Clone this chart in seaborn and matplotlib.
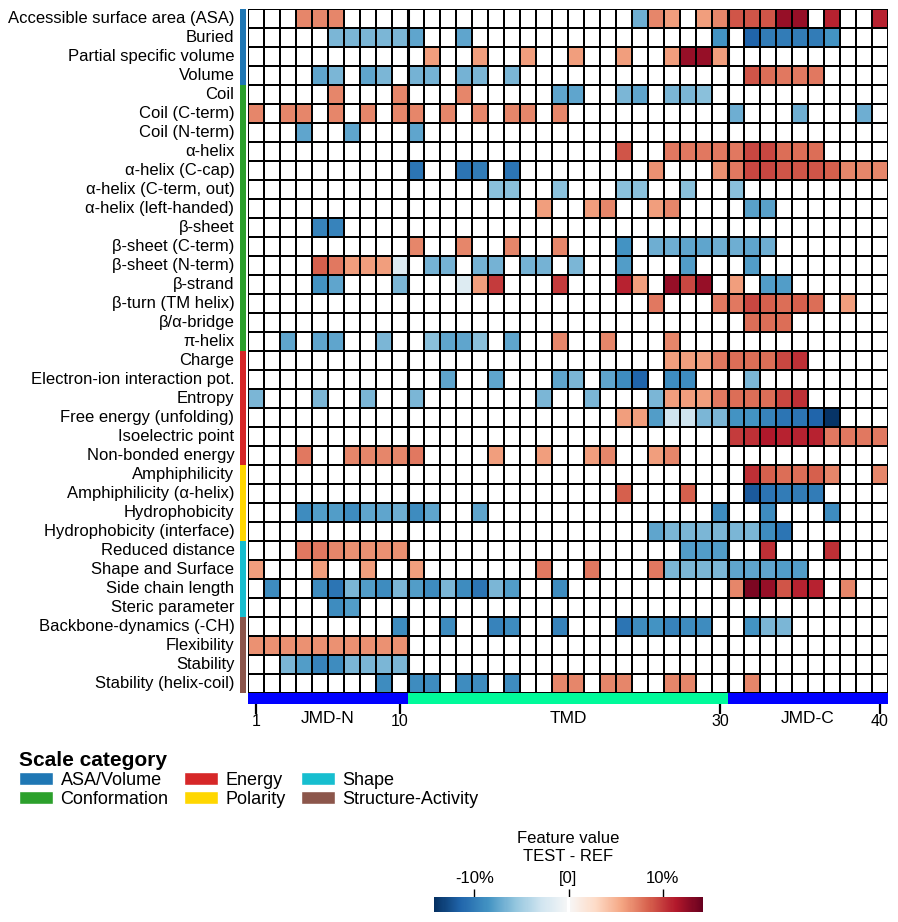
import numpy as np
import pandas as pd
import seaborn as sns
import matplotlib.pyplot as plt
from matplotlib.colors import ListedColormap
from matplotlib.patches import Patch

# --- data ---
categories = ["ASA/Volume", "Conformation", "Energy", "Polarity", "Shape", "Structure-Activity"]
cat_colors = ["#1f77b4", "#2ca02c", "#d62728", "#ffd700", "#17becf", "#8c564b"]

names_asa = ["Accessible surface area (ASA)", "Buried", "Partial specific volume", "Volume"]
vals_asa = [
    [0, 0, 0, 7, 7, 7, 0, 0, 0, 0, 0, 0, 0, 0, 0, 0, 0, 0, 0, 0, 0, 0, 0, 0, -7, 7, 6, 0, 6, 7, 9, 9, 9, 12.5, 12.5, 0, 11, 0, 0, 11],
    [0, 0, 0, 0, 0, -6.5, -6.5, -6.5, -6.5, -6.5, -7.5, 0, 0, -7.5, 0, 0, 0, 0, 0, 0, 0, 0, 0, 0, 0, 0, 0, 0, 0, -8.6, 0, -11.5, -10, -10, -10, -10, -8.6, 0, 0, 0],
    [0, 0, 0, 0, 0, 0, 0, 0, 0, 0, 0, 6, 0, 0, 6, 0, 0, 6, 0, 0, 6, 0, 0, 6, 0, 0, 6, 12.5, 12.5, 6, 0, 0, 0, 0, 0, 0, 0, 0, 0, 0],
    [0, 0, 0, 0, -7.5, -6.5, 0, -7.5, -6.5, 0, -6.8, -6.8, 0, -6.8, -6.5, 0, -6.5, 0, 0, 0, 0, 0, 0, 0, 0, 0, 0, 0, 0, 0, 0, 9, 8, 7.5, 7.5, 7.5, 0, 0, 0, 0],
]

names_conf = ["Coil", "Coil (C-term)", "Coil (N-term)", "α-helix", "α-helix (C-cap)",
              "α-helix (C-term, out)", "α-helix (left-handed)", "β-sheet", "β-sheet (C-term)",
              "β-sheet (N-term)", "β-strand", "β-turn (TM helix)", "β/α-bridge", "π-helix"]
vals_conf = [
    [0, 0, 0, 0, 0, 7, 0, 0, 0, 7, 0, 0, 0, 7, 0, 0, 0, 0, 0, -7.5, -7.5, 0, 0, -6.5, -7.5, 0, -6.5, -6.5, -6, 0, 0, 0, 0, 0, 0, 0, 0, 0, 0, 0],
    [7, 0, 7, 7, 0, 7, 0, 7, 0, 7, 7, 0, 7, 0, 7, 0, 7, 7, 0, 7, 0, 0, 0, 0, 0, 0, 0, 0, 0, 0, -7, 0, 0, 0, -7, 0, 0, 0, -7, 0],
    [0, 0, 0, -7.5, 0, 0, -7.5, 0, 0, 0, -7.5, 0, 0, 0, 0, 0, 0, 0, 0, 0, 0, 0, 0, 0, 0, 0, 0, 0, 0, 0, 0, 0, 0, 0, 0, 0, 0, 0, 0, 0],
    [0, 0, 0, 0, 0, 0, 0, 0, 0, 0, 0, 0, 0, 0, 0, 0, 0, 0, 0, 0, 0, 0, 0, 9, 0, 0, 7.5, 7.5, 7.5, 7.5, 7.5, 9.5, 9.5, 8, 8, 8, 0, 0, 0, 0],
    [0, 0, 0, 0, 0, 0, 0, 0, 0, 0, -10.5, 0, 0, -10.5, -10, 0, -10.5, 0, 0, 0, 0, 0, 0, 0, 0, 6.5, 0, 0, 0, 6.5, 7.5, 9.5, 9.5, 9, 9, 9, 8.5, 7, 7, 7],
    [0, 0, 0, 0, 0, 0, 0, 0, 0, 0, 0, 0, 0, 0, 0, -6, -6, 0, 0, -6, 0, 0, 0, -6, -6, 0, 0, -6, 0, 0, -6, 0, 0, 0, 0, 0, 0, 0, 0, 0],
    [0, 0, 0, 0, 0, 0, 0, 0, 0, 0, 0, 0, 0, 0, 0, 0, 0, 0, 6, 0, 0, 6, 7, 0, 0, 6, 7, 0, 0, 0, 0, -7.8, -7.8, 0, 0, 0, 0, 0, 0, 0],
    [0, 0, 0, 0, -9.5, -9.5, 0, 0, 0, 0, 0, 0, 0, 0, 0, 0, 0, 0, 0, 0, 0, 0, 0, 0, 0, 0, 0, 0, 0, 0, 0, 0, 0, 0, 0, 0, 0, 0, 0, 0],
    [0, 0, 0, 0, 0, 0, 0, 0, 0, 0, 7, 0, 0, 7, 0, 0, 7, 0, 0, 7, 0, 0, 0, -8.5, 0, -7, -7, -7.5, -7.5, -7, -7, -7.5, -7, 0, 0, 0, 0, 0, 0, 0],
    [0, 0, 0, 0, 8.5, 7.5, 6, 6, 6, -2, 0, -6.8, -6.8, 0, -6.8, -6.8, 0, -6.8, -6.8, 0, -6.5, 0, 0, -8, 0, 0, 0, -8, 0, 0, 0, -8, 0, 0, 0, 0, 0, 0, 0, 0],
    [0, 0, 0, 0, -8.5, -7.5, 0, 0, 0, -6.5, 0, 0, 0, -2, 6, 10, 0, 0, 0, 10, 0, 0, 0, 11, 6, 0, 12.5, 9.5, 12.5, 0, 6, 0, -8, -8, 0, 0, 0, 0, 0, 0],
    [0, 0, 0, 0, 0, 0, 0, 0, 0, 0, 0, 0, 0, 0, 0, 0, 0, 0, 0, 0, 0, 0, 0, 0, 0, 7.5, 0, 0, 0, 7.5, 7.5, 9.5, 8.5, 8, 8.5, 8, 0, 6, 0, 0],
    [0, 0, 0, 0, 0, 0, 0, 0, 0, 0, 0, 0, 0, 0, 0, 0, 0, 0, 0, 0, 0, 0, 0, 0, 0, 0, 0, 0, 0, 0, 0, 8, 8, 8, 0, 0, 0, 0, 0, 0],
    [0, 0, -7.5, 0, -7.5, -7.5, 0, 0, -6.5, 0, 0, -6, -7.5, -7.5, -6, 0, -7.5, 0, 0, 7, 0, 0, 7, 0, 0, 0, 7, 0, 0, 0, 0, 0, 0, 0, 0, 0, 0, 0, 0, 0],
]

names_energy = ["Charge", "Electron-ion interaction pot.", "Entropy", "Free energy (unfolding)",
                "Isoelectric point", "Non-bonded energy"]
vals_energy = [
    [0, 0, 0, 0, 0, 0, 0, 0, 0, 0, 0, 0, 0, 0, 0, 0, 0, 0, 0, 0, 0, 0, 0, 0, 0, 0, 6, 6, 6, 7.5, 8, 8, 8, 9.5, 10.5, 0, 0, 0, 0, 0],
    [0, 0, 0, 0, 0, 0, 0, 0, 0, 0, 0, 0, -7.5, 0, 0, -7.5, 0, 0, 0, -7.5, -6.5, 0, -7.5, -9, -11.5, 0, -9, -9, 0, 0, 0, -6.5, 0, 0, 0, 0, 0, 0, 0, 0],
    [-6.5, 0, 0, 0, -6.5, 0, 0, -6.5, 0, 0, -6.5, 0, 0, 0, 0, 0, 0, 0, -6.5, 0, 0, -6.5, 0, 0, 0, -6.5, 6, 6, 6, 7.5, 8, 8, 8, 9.5, 10.5, 0, 0, 0, 0, 0],
    [0, 0, 0, 0, 0, 0, 0, 0, 0, 0, 0, 0, 0, 0, 0, 0, 0, 0, 0, 0, 0, 0, 0, 6, 6, -8, -3, -3, -6.5, -6.5, -8.5, -8.5, -9.5, -10.5, -10.5, -11.5, -14, 0, 0, 0],
    [0, 0, 0, 0, 0, 0, 0, 0, 0, 0, 0, 0, 0, 0, 0, 0, 0, 0, 0, 0, 0, 0, 0, 0, 0, 0, 0, 0, 0, 0, 10, 10.5, 11.5, 11, 11, 11, 7.5, 7.5, 7.5, 7.5],
    [0, 0, 0, 7.5, 0, 0, 7, 7, 7, 7, 7.5, 0, 0, 0, 0, 6, 0, 0, 6, 0, 0, 6, 7, 0, 0, 6, 7, 0, 0, 0, 0, 0, 0, 0, 0, 0, 0, 0, 0, 0],
]

names_polarity = ["Amphiphilicity", "Amphiphilicity (α-helix)", "Hydrophobicity", "Hydrophobicity (interface)"]
vals_polarity = [
    [0, 0, 0, 0, 0, 0, 0, 0, 0, 0, 0, 0, 0, 0, 0, 0, 0, 0, 0, 0, 0, 0, 0, 0, 0, 0, 0, 0, 0, 0, 0, 10.5, 8.5, 8, 8, 8.5, 7, 0, 0, 7],
    [0, 0, 0, 0, 0, 0, 0, 0, 0, 0, 0, 0, 0, 0, 0, 0, 0, 0, 0, 0, 0, 0, 0, 8.5, 0, 0, 0, 8.5, 0, 0, 0, -12, -10.5, -10, -10, -10, 0, 0, 0, 0],
    [0, 0, 0, -9, -8, -8, -9, -7.5, -7.5, -7, -9, -7.5, 0, 0, -7.5, 0, 0, 0, 0, 0, 0, 0, 0, 0, 0, 0, 0, 0, 0, -9, 0, 0, -9, 0, 0, 0, -9, 0, 0, 0],
    [0, 0, 0, 0, 0, 0, 0, 0, 0, 0, 0, 0, 0, 0, 0, 0, 0, 0, 0, 0, 0, 0, 0, 0, 0, -7.5, -6.5, -6.5, -6.5, -6.5, -6.5, -6.5, -9, -10.5, 0, 0, 0, 0, 0, 0],
]

names_shape = ["Reduced distance", "Shape and Surface", "Side chain length", "Steric parameter"]
vals_shape = [
    [0, 0, 0, 7.5, 7.5, 7, 6.5, 6.5, 6.5, 6.5, 0, 0, 0, 0, 0, 0, 0, 0, 0, 0, 0, 0, 0, 0, 0, 0, 0, -8, -8, -8, 0, 0, 10.5, 0, 0, 0, 10.5, 0, 0, 0],
    [6, 0, 0, 0, 6, 0, 0, 6, 0, 0, 6, 0, 0, 0, 0, 0, 0, 0, 7.5, 0, 0, 7.5, 0, 0, 0, 7.5, -6.5, -6.5, -6.5, -6.5, -7.5, -7.5, -7.5, -8, -8, 0, 0, 0, 0, 0],
    [0, -9, 0, 0, -9, -10.5, -6.5, -8, -9, -6.5, -8, -9, -6.5, -9, -10.5, -6.5, -8, 0, 0, -9, 0, 0, 0, 0, 0, 0, 0, 0, 0, 0, 7, 13.5, 12.5, 9, 11, 11, 0, 7, 0, 0],
    [0, 0, 0, 0, 0, -9, -8, 0, 0, 0, 0, 0, 0, 0, 0, 0, 0, 0, 0, 0, 0, 0, 0, 0, 0, 0, 0, 0, 0, 0, 0, 0, 0, 0, 0, 0, 0, 0, 0, 0],
]

names_struct = ["Backbone-dynamics (-CH)", "Flexibility", "Stability", "Stability (helix-coil)"]
vals_struct = [
    [0, 0, 0, 0, 0, 0, 0, 0, 0, -9, 0, 0, -9, 0, 0, -9.5, -9, 0, 0, -9.5, 0, 0, 0, -10.5, -9, -8.5, -9.5, -9, -9, 0, 0, -8.5, -6.5, -6.5, 0, 0, 0, 0, 0, 0],
    [6.5, 6.5, 6.5, 6.5, 6.5, 6.5, 6.5, 6.5, 6.5, 6.5, 0, 0, 0, 0, 0, 0, 0, 0, 0, 0, 0, 0, 0, 0, 0, 0, 0, 0, 0, 0, 0, 0, 0, 0, 0, 0, 0, 0, 0, 0],
    [0, 0, -6.5, -8, -9.5, -9, -6.5, -6.5, -6.5, -6.5, 0, 0, 0, 0, 0, 0, 0, 0, 0, 0, 0, 0, 0, 0, 0, 0, 0, 0, 0, 0, 0, 0, 0, 0, 0, 0, 0, 0, 0, 0],
    [0, 0, 0, 0, 0, 0, 0, 0, -9, 0, -9, -9, 0, -9, -9, 0, -9, 0, 0, 7, 7, 0, 7, 7, 0, 0, 7, 7, 0, 0, 0, 7, 0, 0, 0, 0, 0, 0, 0, 0],
]

positions = list(range(1, 41))
regions = ["JMD-N"] * 10 + ["TMD"] * 20 + ["JMD-C"] * 10
region_colors = {"JMD-N": "#0000ff", "TMD": "#00fa9a", "JMD-C": "#0000ff"}

# --- assemble ---
groups = [(names_asa, vals_asa), (names_conf, vals_conf), (names_energy, vals_energy),
          (names_polarity, vals_polarity), (names_shape, vals_shape), (names_struct, vals_struct)]
row_names, rows, row_cat = [], [], []
for i, (nm, vals) in enumerate(groups):
    row_names += nm
    rows += vals
    row_cat += [i] * len(nm)
df = pd.DataFrame(rows, index=row_names, columns=positions)

sns.set_style("white")
plt.rcParams["font.family"] = ["Liberation Sans", "DejaVu Sans"]
plt.rcParams["text.color"] = "black"
plt.rcParams["xtick.color"] = "black"
plt.rcParams["ytick.color"] = "black"

# colormap: RdBu_r with pure white at zero
base = plt.get_cmap("RdBu_r")
cols = base(np.linspace(0, 1, 256))
cols[127:129] = [1, 1, 1, 1]
cmap = ListedColormap(cols)

W, H = 898, 922
fig = plt.figure(figsize=(W / 100, H / 100), dpi=100)

def box(x0, y0, x1, y1):
    return [x0 / W, 1 - y1 / H, (x1 - x0) / W, (y1 - y0) / H]

ax = fig.add_axes(box(248, 9, 888, 693))
ax_cat = fig.add_axes(box(240, 9, 246, 693))
ax_reg = fig.add_axes(box(248, 693, 888, 704))
cax = fig.add_axes(box(434, 897, 703, 912))

sns.heatmap(df, ax=ax, cmap=cmap, vmin=-14.3, vmax=14.3, linewidths=1.4, linecolor="black",
            cbar_ax=cax, cbar_kws={"orientation": "horizontal"})
ax.set_xticks([])
ax.set_yticks([])
ax.set_xlabel("")
ax.set_ylabel("")
ax.axvline(10, color="black", lw=2.2)
ax.axvline(30, color="black", lw=2.2)

# category strip with row labels
cat_df = pd.DataFrame({"cat": row_cat}, index=row_names)
sns.heatmap(cat_df, ax=ax_cat, cmap=ListedColormap(cat_colors), vmin=-0.5, vmax=5.5, cbar=False)
ax_cat.set_xticks([])
ax_cat.set_xlabel("")
ax_cat.set_ylabel("")
ax_cat.set_yticks(np.arange(len(row_names)) + 0.5)
ax_cat.set_yticklabels(row_names, fontsize=12)
ax_cat.tick_params(axis="y", length=0, pad=4)

# region bar under the heatmap
reg_names = ["JMD-N", "TMD", "JMD-C"]
reg_df = pd.DataFrame([[0 if r != "TMD" else 1 for r in regions]], columns=positions)
sns.heatmap(reg_df, ax=ax_reg, cmap=ListedColormap([region_colors["JMD-N"], region_colors["TMD"]]),
            vmin=-0.5, vmax=1.5, cbar=False)
ax_reg.set_yticks([])
ax_reg.set_ylabel("")
ax_reg.set_xticks([0.5, 9.5, 29.5, 39.5])
ax_reg.set_xticklabels(["1", "10", "30", "40"], fontsize=11.5, rotation=0)
ax_reg.tick_params(axis="x", which="major", length=7, width=1.6, color="black", pad=0, bottom=True)
ax_reg.set_xticks([5, 20, 35], minor=True)
ax_reg.set_xticklabels(reg_names, minor=True, fontsize=12.5)
ax_reg.tick_params(axis="x", which="minor", length=0, pad=5, bottom=True)
ax_reg.set_xlabel("")

# colorbar
cbar = ax.collections[0].colorbar
cbar.outline.set_visible(False)
cax.xaxis.set_ticks_position("top")
cax.set_xticks([-10, 0, 10])
cax.set_xticklabels(["-10%", "[0]", "10%"], fontsize=12)
cax.tick_params(axis="x", length=6, width=1, direction="out", pad=2)
cax.set_title("Feature value\nTEST - REF", fontsize=12, pad=26)

# legend
handles = [Patch(facecolor=c, label=n) for n, c in zip(categories, cat_colors)]
leg = fig.legend(handles=handles, ncol=3, loc="upper left", bbox_to_anchor=(19 / W, 1 - 751 / H),
                 title="Scale category", frameon=False, fontsize=13,
                 title_fontproperties={"weight": "bold", "size": 15}, alignment="left",
                 handlelength=1.9, handleheight=0.7, handletextpad=0.4, columnspacing=0.85,
                 labelspacing=0.1, borderpad=0, borderaxespad=0)

fig.savefig("out.png", dpi=100)
